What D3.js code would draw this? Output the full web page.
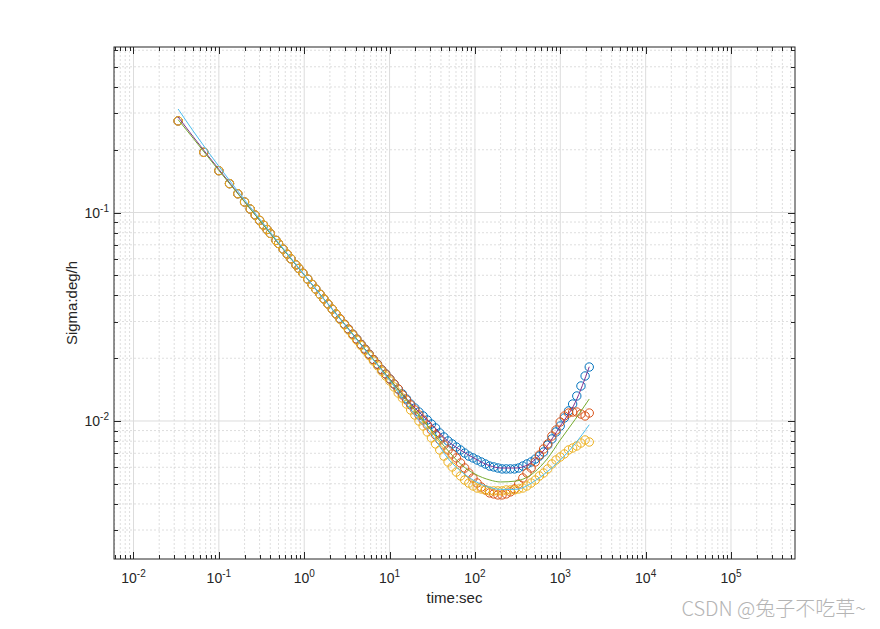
<!DOCTYPE html>
<html><head><meta charset="utf-8">
<script src="https://cdn.jsdelivr.net/npm/d3@7"></script>
<style>body{margin:0;background:#fff}</style>
</head><body>
<svg id="chart" width="880" height="629"></svg>
<script>
// ---- data ----
const tau = [0.03333,0.06667,0.1,0.1333,0.1667,0.2,0.2333,0.2667,0.3,0.3333,0.3667,0.4,0.4667,0.5,0.5667,0.6333,0.7,0.8,0.8667,0.9667,1.1,1.233,1.367,1.533,1.7,1.9,2.133,2.367,2.633,2.967,3.3,3.7,4.133,4.633,5.167,5.767,6.467,7.233,8.1,
9.026,10.09,11.29,12.63,14.13,15.80,17.67,19.77,22.11,24.74,27.67,30.95,34.62,38.72,43.31,48.45,54.19,60.61,67.80,75.84,84.83,94.88,106.1,118.7,132.8,148.5,166.1,185.8,207.8,232.5,260.0,290.9,325.3,363.9,407.0,455.3,509.3,569.6,637.2,712.7,797.2,891.7,997.2,1115.4,1247.7,1395.6,1561.1,1746.1,1953.1,2184.5];

const sigmaBlue = [0.2750,0.1944,0.1587,0.1375,0.1230,0.1123,0.1039,0.0972,0.0917,0.0870,0.0829,0.0794,0.0735,0.0710,0.0667,0.0631,0.0600,0.0561,0.0539,0.0511,0.0479,0.0452,0.0429,0.0405,0.0385,0.0364,0.0344,0.0326,0.0309,0.0291,0.0276,0.0261,0.0247,0.0233,0.0221,0.0209,0.0197,0.0187,0.0176,
0.01680,0.01590,0.01505,0.01424,0.01348,0.01275,0.01206,0.01154,0.01104,0.01057,
0.01011,0.00967,0.00926,0.00876,0.00838,0.00802,0.00776,0.00750,0.00726,0.00702,
0.00679,0.00665,0.00650,0.00636,0.00622,0.00608,0.00602,0.00595,0.00589,0.00589,
0.00589,0.00589,0.00595,0.00608,0.00622,0.00636,0.00657,0.00679,0.00710,0.00767,
0.00820,0.00886,0.00946,0.01034,0.01117,0.01206,0.01318,0.01472,0.01644,0.01815];

const sigmaRed = [0.2750,0.1944,0.1587,0.1375,0.1230,0.1123,0.1039,0.0972,0.0917,0.0870,0.0829,0.0794,0.0735,0.0710,0.0667,0.0631,0.0600,0.0561,0.0539,0.0511,0.0479,0.0452,0.0429,0.0405,0.0385,0.0364,0.0344,0.0326,0.0309,0.0291,0.0276,0.0261,0.0247,0.0233,0.0221,0.0209,0.0197,0.0187,0.0176,
0.01680,0.01590,0.01505,0.01424,0.01333,0.01261,0.01193,0.01129,0.01068,0.01011,
0.00957,0.00905,0.00857,0.00811,0.00767,0.00726,0.00695,0.00665,0.00629,0.00595,
0.00563,0.00533,0.00504,0.00482,0.00467,0.00452,0.00447,0.00442,0.00442,0.00447,
0.00457,0.00472,0.00499,0.00533,0.00563,0.00595,0.00636,0.00687,0.00734,0.00776,
0.00847,0.00905,0.00989,0.01057,0.01092,0.01104,0.01104,0.01080,0.01057,0.01092];

const sigmaYellow = [0.2750,0.1944,0.1587,0.1375,0.1230,0.1123,0.1039,0.0972,0.0917,0.0870,0.0829,0.0794,0.0735,0.0710,0.0667,0.0631,0.0600,0.0561,0.0539,0.0511,0.0479,0.0452,0.0429,0.0405,0.0385,0.0364,0.0344,0.0326,0.0307,0.0289,0.0273,0.0258,0.0244,0.0230,0.0218,0.0206,0.0194,0.0184,0.0173,
0.01644,0.01556,0.01456,0.01362,0.01289,0.01206,0.01129,0.01068,0.01000,0.00946,
0.00886,0.00829,0.00776,0.00726,0.00679,0.00636,0.00602,0.00569,0.00545,0.00521,
0.00504,0.00488,0.00477,0.00472,0.00467,0.00462,0.00462,0.00462,0.00462,0.00467,
0.00467,0.00467,0.00472,0.00477,0.00488,0.00504,0.00521,0.00545,0.00563,0.00589,
0.00622,0.00650,0.00672,0.00695,0.00726,0.00742,0.00759,0.00784,0.00811,0.00793];

const fitTau    = [0.03333,0.05,0.1,0.2,0.5,1,2,5,10,20,30,50,70,100,150,200,300,500,700,1000,1500,2184.5];
const fitPurple = [0.287,0.231,0.161,0.1128,0.0710,0.0502,0.0355,0.02245,0.0159,0.0115,0.0098,0.0079,0.0072,0.0066,0.0061,0.00595,0.00595,0.0065,0.00759,0.00946,0.0123,0.0182];
const fitGreen  = [0.279,0.227,0.159,0.1124,0.0710,0.0502,0.0355,0.02245,0.0159,0.0112,0.00915,0.0071,0.00615,0.00557,0.00521,0.0051,0.00515,0.00569,0.00657,0.00811,0.0102,0.01275];
const fitCyan   = [0.3136,0.246,0.1665,0.1151,0.0717,0.0503,0.0354,0.0223,0.0157,0.0106,0.0088,0.0065,0.0057,0.00515,0.0048,0.0047,0.0047,0.00515,0.0057,0.0065,0.0078,0.0096];

const xTickExps = [-2,-1,0,1,2,3,4,5];
const yTickExps = [-2,-1];
const xLabelText = "time:sec";
const yLabelText = "Sigma:deg/h";
const watermarkText = "CSDN @兔子不吃草~";

// ---- layout ----
const X0 = 114, X1 = 795, Y0 = 47, Y1 = 559;
const svg = d3.select("#chart");
const x = d3.scaleLog().domain([Math.pow(10,-2.2284), Math.pow(10,5.7498)]).range([X0, X1]);
const y = d3.scaleLog().domain([Math.pow(10,-2.6619), Math.pow(10,-0.2062)]).range([Y1, Y0]);
const font = "'Liberation Sans', Arial, Helvetica, sans-serif";
const isMajor = v => Math.abs(Math.log10(v) - Math.round(Math.log10(v))) < 1e-9;

svg.append("rect").attr("width",880).attr("height",629).attr("fill","#fff");

const xt = x.ticks().filter(v => x(v) >= X0-0.5 && x(v) <= X1+0.5);
const yt = y.ticks().filter(v => y(v) >= Y0-0.5 && y(v) <= Y1+0.5);

const grid = svg.append("g");
grid.selectAll(".gxm").data(xt.filter(v=>!isMajor(v))).join("line")
  .attr("x1",d=>x(d)).attr("x2",d=>x(d)).attr("y1",Y0).attr("y2",Y1)
  .attr("stroke","#d6d6d6").attr("stroke-width",0.8).attr("stroke-dasharray","2,2");
grid.selectAll(".gym").data(yt.filter(v=>!isMajor(v))).join("line")
  .attr("y1",d=>y(d)).attr("y2",d=>y(d)).attr("x1",X0).attr("x2",X1)
  .attr("stroke","#d6d6d6").attr("stroke-width",0.8).attr("stroke-dasharray","2,2");
grid.selectAll(".gxM").data(xt.filter(isMajor)).join("line")
  .attr("x1",d=>x(d)).attr("x2",d=>x(d)).attr("y1",Y0).attr("y2",Y1)
  .attr("stroke","#dcdcdc").attr("stroke-width",1);
grid.selectAll(".gyM").data(yt.filter(isMajor)).join("line")
  .attr("y1",d=>y(d)).attr("y2",d=>y(d)).attr("x1",X0).attr("x2",X1)
  .attr("stroke","#dcdcdc").attr("stroke-width",1);

// ---- data marks ----
const plot = svg.append("g");
const circleSeries = [
  {vals: sigmaBlue, color: "#0072BD"},
  {vals: sigmaRed, color: "#D95319"},
  {vals: sigmaYellow, color: "#EDB120"}
];
circleSeries.forEach(s => {
  plot.append("g").selectAll("circle").data(tau.map((t,i)=>[t, s.vals[i]])).join("circle")
    .attr("cx", d=>x(d[0])).attr("cy", d=>y(d[1])).attr("r", 4.2)
    .attr("fill","none").attr("stroke", s.color).attr("stroke-width", 1);
});
const lineGen = d3.line().x(d=>x(d[0])).y(d=>y(d[1])).curve(d3.curveMonotoneX);
[{vals: fitPurple, color:"#7E2F8E"},{vals: fitGreen, color:"#77AC30"},{vals: fitCyan, color:"#4DBEEE"}].forEach(s => {
  plot.append("path").datum(fitTau.map((t,i)=>[t, s.vals[i]]))
    .attr("d", lineGen).attr("fill","none").attr("stroke", s.color).attr("stroke-width", 1);
});

// ---- axes box & ticks ----
const ax = svg.append("g").attr("stroke","#262626").attr("stroke-width",1);
ax.append("rect").attr("x",X0).attr("y",Y0).attr("width",X1-X0).attr("height",Y1-Y0).attr("fill","none");
xt.forEach(v => {
  const L = isMajor(v) ? 7 : 4, px = Math.round(x(v))+0.5;
  ax.append("line").attr("x1",px).attr("x2",px).attr("y1",Y1).attr("y2",Y1-L);
  ax.append("line").attr("x1",px).attr("x2",px).attr("y1",Y0).attr("y2",Y0+L);
});
yt.forEach(v => {
  const L = isMajor(v) ? 7 : 4, py = Math.round(y(v))+0.5;
  ax.append("line").attr("y1",py).attr("y2",py).attr("x1",X0).attr("x2",X0+L);
  ax.append("line").attr("y1",py).attr("y2",py).attr("x1",X1).attr("x2",X1-L);
});

// tick labels
const tl = svg.append("g").attr("font-family",font).attr("fill","#262626");
xTickExps.forEach(e => {
  const t = tl.append("text").attr("x", x(Math.pow(10,e))).attr("y", 583)
    .attr("text-anchor","middle").attr("font-size",14);
  t.append("tspan").text("10");
  t.append("tspan").attr("dy",-6).attr("font-size",10).text(e);
});
yTickExps.forEach(e => {
  const t = tl.append("text").attr("x", 109).attr("y", y(Math.pow(10,e))+5)
    .attr("text-anchor","end").attr("font-size",14);
  t.append("tspan").text("10");
  t.append("tspan").attr("dy",-6).attr("font-size",10).text(e);
});

// axis labels
svg.append("text").attr("x",(X0+X1)/2).attr("y",603).attr("text-anchor","middle")
  .attr("font-family",font).attr("font-size",15).attr("fill","#262626").text(xLabelText);
svg.append("text").attr("transform",`translate(77,${(Y0+Y1)/2}) rotate(-90)`).attr("text-anchor","middle")
  .attr("font-family",font).attr("font-size",15).attr("fill","#262626").text(yLabelText);

// watermark
svg.append("text").attr("x",866).attr("y",616).attr("text-anchor","end")
  .attr("font-family","'Noto Sans CJK SC', 'Noto Sans', sans-serif").attr("font-size",20)
  .attr("font-weight",300).attr("fill","#b4b4b4").text(watermarkText);
</script>
</body></html>
